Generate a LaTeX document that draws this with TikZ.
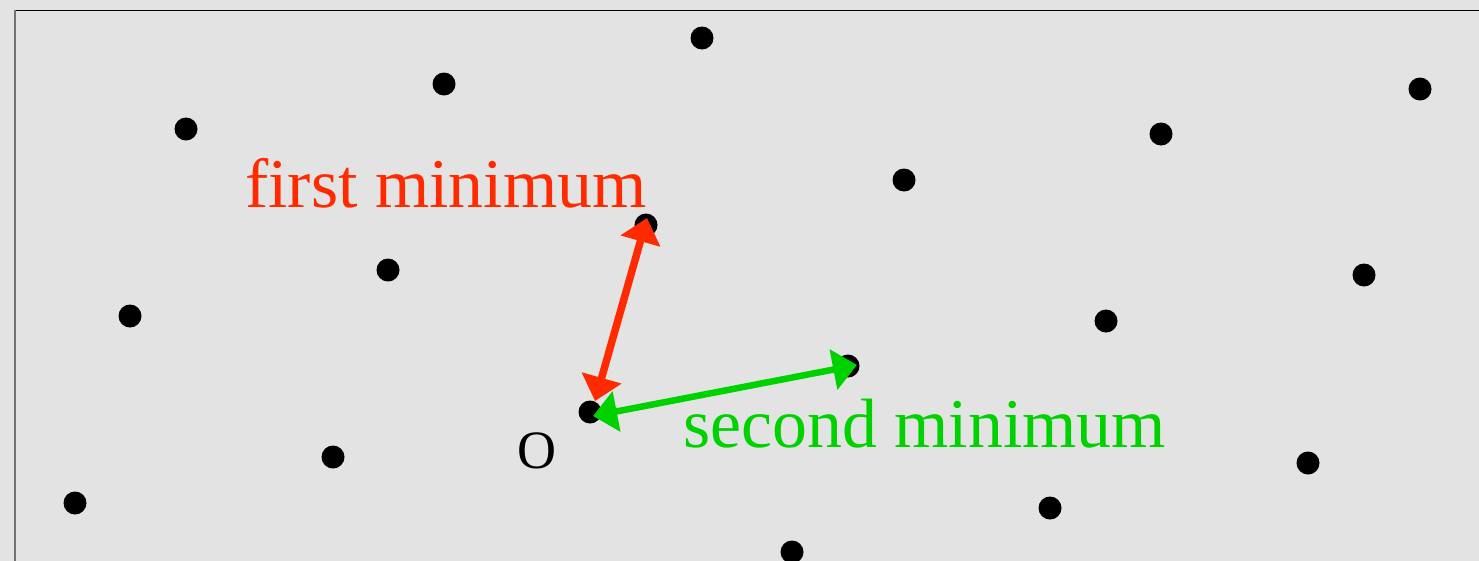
\documentclass[tikz,border=0pt]{standalone}
\usepackage{fontspec}
\setmainfont{Liberation Serif}
\usetikzlibrary{arrows.meta}
\definecolor{bg}{HTML}{E3E3E3}
\definecolor{myred}{HTML}{FF2A00}
\definecolor{mygreen}{HTML}{00D200}
\tikzset{
  dot/.style={circle,fill=black,minimum size=23pt,inner sep=0pt},
  lbl/.style={anchor=base west,inner sep=0pt,font=\fontsize{69.8}{80}\selectfont},
  vec/.style={line width=7.5pt,{Triangle[length=24pt,width=40pt]}-{Triangle[length=24pt,width=40pt]}},
}
\begin{document}
\begin{tikzpicture}[x=1pt,y=-1pt]
\useasboundingbox (0,0) rectangle (1479,560);
\fill[bg] (-1,-1) rectangle (1480,561);
\clip (0,0) rectangle (1479,560);
\draw[line width=1.4pt,black] (14,10.5) -- (1479,10.5);
\draw[line width=2pt,black!55] (15,10) -- (15,561);
% lattice points
\node[dot] (p1) at (186,129) {};
\node[dot] (p2) at (444,84) {};
\node[dot] (p3) at (702,38) {};
\node[dot] (p4) at (1420,89) {};
\node[dot] (p5) at (1161,134) {};
\node[dot] (p6) at (904,180) {};
\node[dot] (b) at (646,225) {};
\node[dot] (p8) at (388,270) {};
\node[dot] (p9) at (130,316) {};
\node[dot] (p10) at (1364,275) {};
\node[dot] (p11) at (1106,321) {};
\node[dot] (a) at (848,366) {};
\node[dot] (o) at (590,412) {};
\node[dot] (p14) at (333,457) {};
\node[dot] (p15) at (75,503) {};
\node[dot] (p16) at (1308,463) {};
\node[dot] (p17) at (1050,508) {};
\node[dot] (p18) at (792,552) {};
% arrow ends
\coordinate (rs) at (595,401);
\coordinate (re) at (647,218);
\coordinate (gs) at (593,416);
\coordinate (ge) at (857,365);
\draw[vec,myred] (rs) -- (re);
\draw[vec,mygreen,line width=6.5pt] (gs) -- (ge);
% labels
\node[lbl,text=myred] (l1) at (245,207) {first minimum};
\node[lbl,text=mygreen] (l2) at (683,447) {second minimum};
\node[anchor=base,inner sep=0pt,font=\fontsize{54}{60}\selectfont] (lo) at (537,468) {O};
\end{tikzpicture}
\end{document}
